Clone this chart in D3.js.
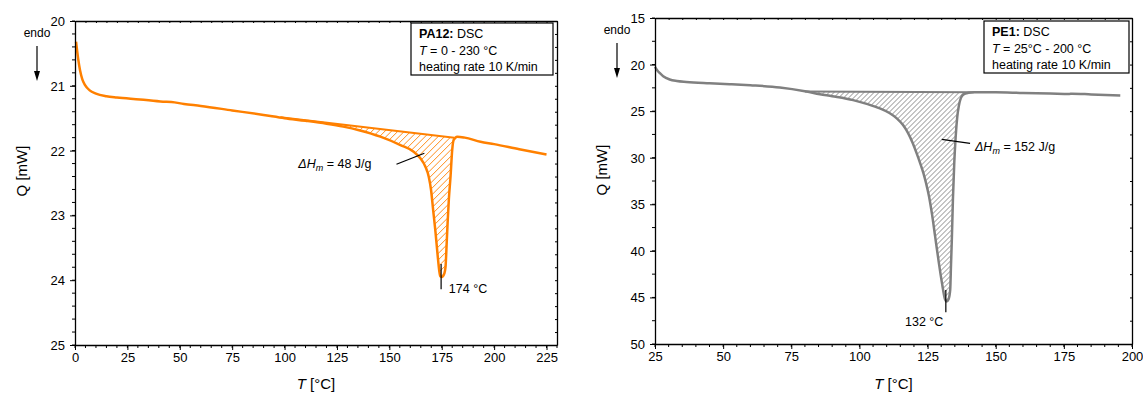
<!DOCTYPE html>
<html>
<head>
<meta charset="utf-8">
<script src="https://cdn.jsdelivr.net/npm/d3@7"></script>
<style>
  body { margin: 0; background: #fff; }
  svg { display: block; font-family: "Liberation Sans", Arial, sans-serif; }
</style>
</head>
<body>
<div id="chart"></div>
<script>
// PA12 DSC curve (T in °C, Q in mW)
const pa12T = [0.5, 1.5, 2.4, 3.5, 4.8, 7, 10, 15, 20, 31, 42, 46, 52, 60, 75, 90, 100, 110, 120, 128, 136, 145.7, 155.3, 161.6, 164.8, 167.2, 168.8, 169.9, 170.9, 172, 173, 173.8, 174.3, 175.2, 176.2, 176.8, 177.4, 177.9, 178.4, 179.2, 180, 180.7, 182.4, 186, 193.5, 200, 212, 225];
const pa12Q = [20.32, 20.58, 20.76, 20.9, 20.99, 21.07, 21.12, 21.16, 21.18, 21.21, 21.245, 21.25, 21.28, 21.31, 21.38, 21.45, 21.50, 21.54, 21.585, 21.63, 21.69, 21.785, 21.914, 22.017, 22.119, 22.248, 22.403, 22.608, 22.917, 23.25, 23.6, 23.85, 23.94, 23.95, 23.9, 23.8, 23.4, 23.05, 22.75, 22.4, 21.99, 21.836, 21.786, 21.80, 21.863, 21.9, 21.98, 22.06];
const pa12BaseT = [98, 181];
const pa12BaseQ = [21.486, 21.80];

// PE1 DSC curve
const pe1T = [25, 25.8, 26.7, 28, 30.4, 33, 36.5, 45, 52.4, 60, 70.8, 80, 85.5, 90, 97.7, 103, 107.5, 111, 113.7, 116, 117.9, 119.5, 121, 122.3, 123.5, 124.5, 125.5, 126.6, 127.8, 129, 130.2, 131.4, 132, 132.7, 133.3, 133.6, 133.9, 134.3, 134.8, 135.3, 135.9, 136.5, 137.2, 138.2, 140, 142, 150, 160, 170, 177, 178, 185, 195.7];
const pe1Q = [20.25, 20.6, 20.9, 21.25, 21.6, 21.76, 21.86, 22.0, 22.1, 22.22, 22.46, 22.86, 23.18, 23.4, 23.82, 24.25, 24.71, 25.2, 25.78, 26.5, 27.39, 28.4, 29.53, 30.6, 31.68, 32.8, 34.1, 36.0, 38.5, 41.0, 43.3, 45.2, 45.44, 45.2, 44.2, 41.5, 38.8, 34.5, 30.5, 27.8, 25.6, 24.4, 23.6, 23.2, 23.03, 22.97, 22.97, 23.05, 23.1, 23.15, 23.12, 23.2, 23.32];
const pe1BaseT = [80, 142];
const pe1BaseQ = [22.9, 22.98];

const pa12XTicks = [0, 25, 50, 75, 100, 125, 150, 175, 200, 225];
const pa12YTicks = [20, 21, 22, 23, 24, 25];
const pe1XTicks = [25, 50, 75, 100, 125, 150, 175, 200];
const pe1YTicks = [15, 20, 25, 30, 35, 40, 45, 50];

const W = 1143, H = 394;
const svg = d3.select("#chart").append("svg").attr("width", W).attr("height", H);
const defs = svg.append("defs");

function drawPanel(cfg) {
    const x = d3.scaleLinear().domain(cfg.xDomain).range([cfg.left, cfg.right]);
    const y = d3.scaleLinear().domain(cfg.yDomain).range([cfg.top, cfg.bottom]);
    const g = svg.append("g");

    const data = cfg.T.map((t, i) => ({ t, q: cfg.Q[i] }));
    const base = d3.scaleLinear().domain(cfg.baseT).range(cfg.baseQ);

    // hatched melting area between baseline and curve
    const inPeak = data.filter(d => d.t >= cfg.baseT[0] && d.t <= cfg.baseT[1]);
    const areaD = d3.area()
        .x(d => x(d.t))
        .y0(d => y(base(d.t)))
        .y1(d => y(d.q))
        .curve(d3.curveMonotoneX)(inPeak);
    defs.append("clipPath").attr("id", cfg.id + "-clip")
        .append("path").attr("d", areaD);

    const x0 = x(cfg.baseT[0]), x1 = x(cfg.baseT[1]);
    const yTop = y(d3.min(cfg.baseQ)) - 5, yBot = y(d3.max(inPeak, d => d.q)) + 5;
    const span = yBot - yTop;
    const starts = d3.range(x0 - span, x1 + 1, cfg.hatchStep);
    g.append("g").attr("clip-path", `url(#${cfg.id}-clip)`)
        .selectAll("line").data(starts).join("line")
        .attr("x1", d => d).attr("y1", yBot)
        .attr("x2", d => d + span).attr("y2", yTop)
        .attr("stroke", cfg.color).attr("stroke-width", 0.9);

    // baseline
    g.append("line")
        .attr("x1", x(cfg.baseT[0])).attr("y1", y(cfg.baseQ[0]))
        .attr("x2", x(cfg.baseT[1])).attr("y2", y(cfg.baseQ[1]))
        .attr("stroke", cfg.color).attr("stroke-width", 2);

    // DSC curve
    g.append("path")
        .datum(data)
        .attr("fill", "none")
        .attr("stroke", cfg.color)
        .attr("stroke-width", 2.5)
        .attr("stroke-linejoin", "round")
        .attr("d", d3.line().x(d => x(d.t)).y(d => y(d.q)).curve(d3.curveMonotoneX));

    // frame: axes
    const xMinor = d3.range(cfg.xDomain[0], cfg.xDomain[1] + 0.01, 5);
    const yMinor = d3.range(d3.min(cfg.yDomain), d3.max(cfg.yDomain) + 0.001, cfg.yMinorStep);

    const axB = g.append("g").attr("transform", `translate(0,${cfg.bottom})`)
        .call(d3.axisBottom(x).tickValues(cfg.xTicks).tickSize(5).tickSizeOuter(0).tickPadding(3)
            .tickFormat(d3.format("d")));
    axB.append("g").selectAll("line").data(xMinor).join("line")
        .attr("x1", d => x(d)).attr("x2", d => x(d)).attr("y1", 0).attr("y2", 3)
        .attr("stroke", "#000");

    const axL = g.append("g").attr("transform", `translate(${cfg.left},0)`)
        .call(d3.axisLeft(y).tickValues(cfg.yTicks).tickSize(5).tickSizeOuter(0).tickPadding(5)
            .tickFormat(d3.format("d")));
    axL.append("g").selectAll("line").data(yMinor).join("line")
        .attr("y1", d => y(d)).attr("y2", d => y(d)).attr("x1", 0).attr("x2", -3)
        .attr("stroke", "#000");

    const axT = g.append("g").attr("transform", `translate(0,${cfg.top})`)
        .call(d3.axisBottom(x).tickValues(xMinor).tickSize(2).tickSizeOuter(0).tickFormat(""));
    const axR = g.append("g").attr("transform", `translate(${cfg.right},0)`)
        .call(d3.axisLeft(y).tickValues(yMinor).tickSize(2).tickSizeOuter(0).tickFormat(""));

    [axB, axL, axT, axR].forEach(a => {
        a.select(".domain").attr("stroke", "#000").attr("stroke-width", 1.3);
        a.selectAll(".tick line").attr("stroke", "#000");
        a.selectAll("text").attr("font-size", 13).attr("fill", "#000")
            .attr("font-family", "Liberation Sans, Arial, sans-serif");
    });
    axL.selectAll(".tick text").attr("dy", "0.35em");

    // axis titles
    g.append("text")
        .attr("transform", `translate(${cfg.left - 48},${cfg.yTitleY}) rotate(-90)`)
        .attr("text-anchor", "middle").attr("font-size", 15)
        .text("Q [mW]");
    const xt = g.append("text")
        .attr("x", (cfg.left + cfg.right) / 2).attr("y", H - 5)
        .attr("text-anchor", "middle").attr("font-size", 15);
    xt.append("tspan").attr("font-style", "italic").text("T");
    xt.append("tspan").text(" [°C]");

    // endo arrow
    g.append("text").attr("x", cfg.left - 38).attr("y", cfg.top + 16)
        .attr("text-anchor", "middle").attr("font-size", 12).text("endo");
    g.append("line")
        .attr("x1", cfg.left - 38).attr("x2", cfg.left - 38)
        .attr("y1", cfg.top + 25).attr("y2", cfg.top + 52)
        .attr("stroke", "#000").attr("stroke-width", 1.2);
    g.append("path")
        .attr("d", `M${cfg.left - 41},${cfg.top + 50} L${cfg.left - 35},${cfg.top + 50} L${cfg.left - 38},${cfg.top + 60} Z`)
        .attr("fill", "#000");

    // info box
    const bx = cfg.box;
    g.append("rect").attr("x", bx.x).attr("y", bx.y).attr("width", bx.w).attr("height", bx.h)
        .attr("fill", "#fff").attr("stroke", "#000").attr("stroke-width", 1.2);
    const t1 = g.append("text").attr("x", bx.x + 8).attr("y", bx.y + 15).attr("font-size", 12.5);
    t1.append("tspan").attr("font-weight", "bold").text(cfg.name + ":");
    t1.append("tspan").text(" DSC");
    const t2 = g.append("text").attr("x", bx.x + 8).attr("y", bx.y + 32).attr("font-size", 12.5);
    t2.append("tspan").attr("font-style", "italic").text("T");
    t2.append("tspan").text(" = " + cfg.range);
    g.append("text").attr("x", bx.x + 8).attr("y", bx.y + 48).attr("font-size", 12.5)
        .text("heating rate 10 K/min");

    // enthalpy annotation
    const a = cfg.dh;
    g.append("line")
        .attr("x1", x(a.t1)).attr("y1", y(a.q1)).attr("x2", x(a.t2)).attr("y2", y(a.q2))
        .attr("stroke", "#000").attr("stroke-width", 1.2);
    const dt = g.append("text").attr("x", x(a.lt)).attr("y", y(a.lq))
        .attr("text-anchor", a.anchor).attr("font-size", 12.5);
    dt.append("tspan").attr("font-style", "italic").text("ΔH");
    dt.append("tspan").attr("font-style", "italic").attr("font-size", 9).attr("dy", 3).text("m");
    dt.append("tspan").attr("dy", -3).text(" = " + a.text);

    // peak annotation
    const p = cfg.peak;
    g.append("line")
        .attr("x1", x(p.t)).attr("x2", x(p.t)).attr("y1", y(p.q1)).attr("y2", y(p.q2))
        .attr("stroke", "#000").attr("stroke-width", 1.2);
    g.append("text").attr("x", x(p.lt)).attr("y", y(p.lq))
        .attr("text-anchor", p.anchor).attr("font-size", 12.5).text(p.text);
}

drawPanel({
    id: "pa12", name: "PA12", range: "0 - 230 °C", color: "#ff8000", hatchStep: 6.5,
    T: pa12T, Q: pa12Q, baseT: pa12BaseT, baseQ: pa12BaseQ,
    xDomain: [0, 230], yDomain: [20, 25], xTicks: pa12XTicks, yTicks: pa12YTicks, yMinorStep: 0.2,
    left: 75, right: 557, top: 21, bottom: 345, yTitleY: 171,
    box: { x: 411, y: 23, w: 142, h: 52 },
    dh: { t1: 153.4, q1: 22.21, t2: 166.7, q2: 22.04, lt: 141.5, lq: 22.27, anchor: "end", text: "48 J/g" },
    peak: { t: 174.7, q1: 23.75, q2: 24.14, lt: 178.4, lq: 24.2, anchor: "start", text: "174 °C" }
});

drawPanel({
    id: "pe1", name: "PE1", range: "25°C - 200 °C", color: "#808080", hatchStep: 5,
    T: pe1T, Q: pe1Q, baseT: pe1BaseT, baseQ: pe1BaseQ,
    xDomain: [25, 200], yDomain: [15, 50], xTicks: pe1XTicks, yTicks: pe1YTicks, yMinorStep: 2.5,
    left: 655, right: 1132, top: 18, bottom: 344, yTitleY: 170,
    box: { x: 984, y: 21, w: 145, h: 52 },
    dh: { t1: 130.2, q1: 28.03, t2: 140.6, q2: 28.46, lt: 142.4, lq: 29.25, anchor: "start", text: "152 J/g" },
    peak: { t: 131.7, q1: 44.2, q2: 46.6, lt: 130.8, lq: 48.1, anchor: "end", text: "132 °C" }
});
</script>
</body>
</html>
